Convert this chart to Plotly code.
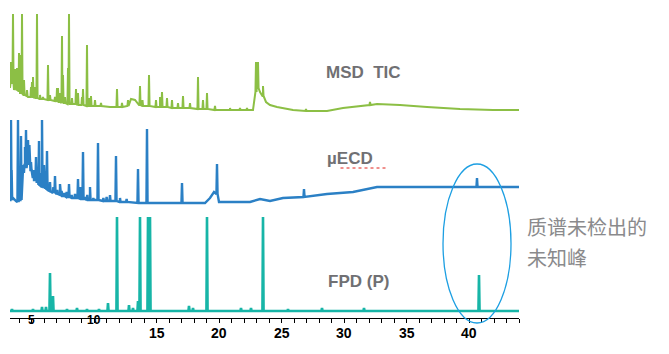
import plotly.graph_objects as go

# ---------------- data (retention time in min, detector response in arbitrary units) -------------
# MSD TIC baseline
msd_base_t = [3.28, 3.44, 3.60, 3.84, 4.08, 4.40, 4.72, 5.12, 5.68, 6.24, 7.28, 8.48, 9.68, 10.48,
              11.28, 12.64, 12.96, 13.28, 13.60, 15.28, 17.28, 18.48, 20.88, 22.72, 22.88, 23.04,
              23.28, 23.52, 23.76, 24.08, 24.64, 25.92, 28.64, 29.92, 31.52, 32.64, 34.48, 36.64,
              39.28, 41.92, 44.0]
msd_base_v = [230, 238, 228, 232, 225, 223, 221, 221, 219, 218, 216, 214, 212, 212,
              211, 212, 219, 218, 213, 211, 210, 209, 208, 208, 223, 238,
              226, 222, 216, 213, 211, 208, 207, 210, 212, 214, 213, 211,
              209, 208, 208]
# MSD TIC peaks
msd_peak_t = [3.36, 3.52, 3.68, 3.84, 3.92, 4.00, 4.16, 4.24, 4.40, 4.64, 4.96, 5.04, 5.12, 5.28,
              5.44, 5.68, 5.92, 6.32, 6.48, 6.88, 7.04, 7.12, 7.28, 7.44, 7.52, 7.68, 7.92, 8.00,
              8.24, 8.56, 8.72, 9.04, 9.12, 9.44, 9.60, 9.76, 10.08, 10.56, 11.84, 12.24, 12.72,
              13.68, 13.88, 14.40, 14.96, 15.28, 15.44, 15.84, 16.24, 16.72, 17.12, 17.68, 18.32,
              18.72, 19.04, 19.68, 20.88, 21.68, 22.24, 22.96, 23.12, 23.52, 26.96, 32.08]
msd_peak_top = [256, 304, 249, 250, 238, 265, 263, 304, 238, 228, 231, 236, 241, 231,
                304, 223, 221, 253, 223, 221, 230, 230, 225, 282, 243, 221, 250, 304,
                220, 229, 225, 221, 229, 273, 220, 222, 218, 215, 229, 215, 218,
                232, 218, 243, 218, 221, 226, 220, 218, 215, 222, 215, 241,
                218, 225, 212, 210, 210, 210, 256, 256, 232, 209, 216]
msd_peak_foot = [234, 234, 230, 228, 227, 226, 225, 224, 223, 222, 221, 221, 221, 220,
                 220, 219, 219, 218, 218, 217, 216, 216, 216, 215, 215, 215, 214, 214,
                 214, 214, 213, 213, 213, 212, 212, 212, 212, 212, 211, 211, 212,
                 213, 212, 212, 211, 211, 211, 211, 210, 210, 210, 210, 209,
                 209, 209, 208, 208, 208, 208, 226, 230, 222, 207, 213]

# µECD baseline
ecd_base_t = [3.28, 3.52, 3.76, 4.00, 4.24, 4.48, 4.72, 4.96, 5.20, 5.52, 5.84, 6.16, 6.64, 7.28,
              8.08, 9.68, 12.08, 15.28, 18.88, 19.28, 19.60, 20.00, 22.48, 23.28, 24.08, 25.12,
              26.72, 28.64, 30.72, 32.64, 34.48, 44.0]
ecd_base_v = [118, 120, 117, 118, 138, 153, 158, 148, 138, 133, 131, 128, 126, 123,
              121, 118, 116, 115, 115, 120, 126, 116, 116, 119, 117, 120,
              121, 124, 126, 131, 131, 131]
# µECD peaks
ecd_peak_t = [3.36, 3.41, 3.92, 4.16, 4.35, 4.48, 4.56, 4.72, 4.83, 4.96, 5.15, 5.36, 5.46, 5.60,
              5.68, 5.84, 5.89, 6.00, 6.13, 6.24, 6.48, 6.75, 6.88, 7.06, 7.28, 7.41, 7.60, 7.81,
              8.00, 8.21, 8.48, 8.72, 8.93, 9.12, 9.28, 9.46, 9.68, 9.95, 10.32, 10.75, 11.01,
              11.28, 11.76, 12.08, 12.61, 13.52, 14.24, 17.04, 19.84, 26.80, 40.64]
ecd_peak_top = [198, 148, 198, 182, 153, 171, 188, 178, 173, 156, 148, 161, 146, 177,
                145, 198, 138, 153, 143, 167, 136, 131, 142, 128, 134, 127, 125, 126,
                134, 123, 124, 139, 131, 166, 121, 123, 131, 120, 175, 120, 121,
                123, 162, 120, 119, 149, 189, 135, 154, 129, 140]
ecd_peak_foot = [118, 118, 116, 118, 145, 153, 150, 158, 153, 148, 140, 138, 135, 133,
                 132, 131, 131, 130, 129, 128, 127, 125, 125, 124, 123, 122, 122, 121,
                 121, 120, 120, 120, 119, 119, 119, 118, 118, 118, 118, 117, 117,
                 117, 117, 116, 116, 115, 115, 115, 124, 121, 131]

# FPD (P) baseline
fpd_base_t = [3.28, 44.0]
fpd_base_v = [7, 7]
# FPD (P) peaks
fpd_peak_t = [3.44, 5.12, 5.84, 6.16, 6.48, 6.72, 7.84, 8.64, 9.44, 10.40, 11.12, 11.84, 12.80,
              13.12, 13.52, 13.68, 14.32, 14.48, 17.60, 17.92, 19.04, 21.76, 22.56, 23.52,
              25.52, 28.24, 31.60, 40.80]
fpd_peak_top = [9, 9, 11, 11, 45, 22, 9, 10, 9, 9, 15, 101, 13,
                10, 17, 101, 101, 101, 12, 10, 101, 10, 10, 101,
                9, 10, 10, 43]

x_tick_labels = [5, 10, 15, 20, 25, 30, 35, 40]

# ---------------- build traces ----------------
PEAK_HALF_WIDTH = 0.045


def build(base_t, base_v, peak_t, peak_top, peak_foot):
    pts = list(zip(base_t, base_v))
    for t, top, foot in zip(peak_t, peak_top, peak_foot):
        pts += [(t - PEAK_HALF_WIDTH, foot), (t, top), (t + PEAK_HALF_WIDTH, foot)]
    pts.sort(key=lambda p: p[0])
    return [p[0] for p in pts], [p[1] for p in pts]


msd_x, msd_y = build(msd_base_t, msd_base_v, msd_peak_t, msd_peak_top, msd_peak_foot)
ecd_x, ecd_y = build(ecd_base_t, ecd_base_v, ecd_peak_t, ecd_peak_top, ecd_peak_foot)
fpd_x, fpd_y = build(fpd_base_t, fpd_base_v, fpd_peak_t, fpd_peak_top, [fpd_base_v[0]] * len(fpd_peak_t))

fig = go.Figure()
fig.add_trace(go.Scatter(x=msd_x, y=msd_y, mode="lines",
                         line=dict(color="#8cbf45", width=2), name="MSD TIC"))
fig.add_trace(go.Scatter(x=ecd_x, y=ecd_y, mode="lines",
                         line=dict(color="#2b80c5", width=2.4), name="µECD"))
fig.add_trace(go.Scatter(x=fpd_x, y=fpd_y, mode="lines",
                         line=dict(color="#17b5a7", width=2.6), name="FPD (P)"))

label_font = dict(family="Liberation Sans, Arial", size=17, color="#707073")
annotations = [
    dict(x=31.52, y=246, xref="x", yref="y", text="<b>MSD  TIC</b>", showarrow=False, font=label_font),
    dict(x=30.48, y=160, xref="x", yref="y", text="<b>µECD</b>", showarrow=False, font=label_font),
    dict(x=31.16, y=37, xref="x", yref="y", text="<b>FPD (P)</b>", showarrow=False, font=label_font),
    dict(x=1.0118, y=0.2955, xref="paper", yref="paper", xanchor="left", yanchor="middle",
         text="质谱未检出的", showarrow=False,
         font=dict(family="Noto Sans CJK SC", size=20, color="#8a8a8c")),
    dict(x=1.0118, y=0.198, xref="paper", yref="paper", xanchor="left", yanchor="middle",
         text="未知峰", showarrow=False,
         font=dict(family="Noto Sans CJK SC", size=20, color="#8a8a8c")),
]
for v in x_tick_labels:
    small = v < 15
    annotations.append(dict(
        x=v, y=-0.0065 if small else -0.0487, xref="x", yref="paper",
        xanchor="center", yanchor="middle", showarrow=False,
        text=f"<b>{v}</b>",
        font=dict(family="Liberation Sans, Arial", size=12 if small else 14, color="#000000")))

shapes = [
    dict(type="circle", xref="paper", yref="paper", x0=0.8507, x1=0.9843, y0=-0.0162, y1=0.5,
         line=dict(color="#1d9fe2", width=1.3), layer="above"),
    dict(type="line", xref="x", yref="y", x0=29.72, x1=33.4, y0=150, y1=150,
         line=dict(color="#e0201b", width=1, dash="dot")),
]

fig.update_layout(
    width=669, height=354,
    margin=dict(l=10, r=150, t=10, b=36),
    paper_bgcolor="white", plot_bgcolor="white",
    showlegend=False,
    xaxis=dict(range=[3.28, 44.0], showline=True, linecolor="#000000", linewidth=1,
               ticks="outside", ticklen=4, tickcolor="#000000", tickwidth=1,
               tick0=0, dtick=1, showticklabels=False, showgrid=False, zeroline=False),
    yaxis=dict(range=[0, 308], visible=False, showgrid=False, zeroline=False),
    annotations=annotations,
    shapes=shapes,
)

fig.write_html("out.html")
